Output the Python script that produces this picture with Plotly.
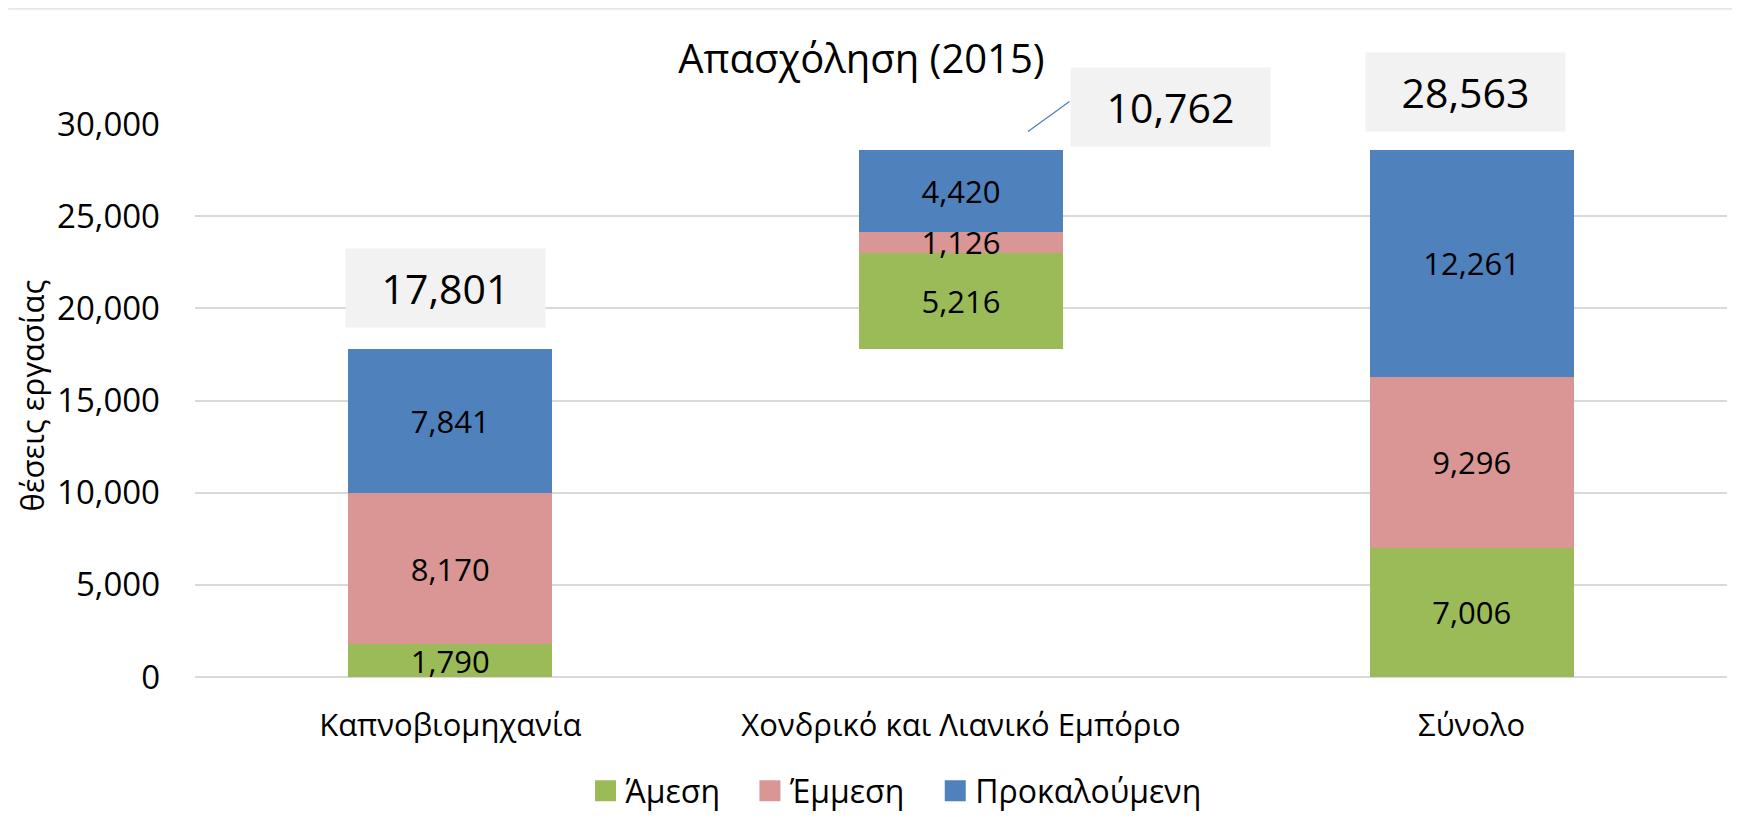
import plotly.graph_objects as go

categories = ["Καπνοβιομηχανία", "Χονδρικό και Λιανικό Εμπόριο", "Σύνολο"]
series_names = ["Άμεση", "Έμμεση", "Προκαλούμενη"]
direct = [1790, 5216, 7006]
indirect = [8170, 1126, 9296]
induced = [7841, 4420, 12261]
totals = [17801, 10762, 28563]
base = [0, 17801, 0]  # waterfall offset (Χονδρικό starts on top of Καπνοβιομηχανία)
y_ticks = [0, 5000, 10000, 15000, 20000, 25000, 30000]
title_text = "Απασχόληση (2015)"
y_title = "θέσεις εργασίας"

colors = ["#9BBB59", "#D99694", "#4F81BD"]
FONT = "Open Sans, Liberation Sans, DejaVu Sans, sans-serif"
W, H = 1732, 828  # page body has an 8px margin

fig = go.Figure()
fig.add_trace(go.Bar(x=categories, y=base,
                     marker=dict(color="rgba(0,0,0,0)", line=dict(width=0)),
                     showlegend=False, hoverinfo="skip"))
for name, vals, col in zip(series_names, [direct, indirect, induced], colors):
    fig.add_trace(go.Bar(
        x=categories, y=vals, name=name, showlegend=False,
        marker=dict(color=col, line=dict(width=0)),
        text=vals, texttemplate="%{y:,}", textposition="inside",
        insidetextanchor="middle", textangle=0, constraintext="none",
        textfont=dict(color="black", size=31, family=FONT), hoverinfo="skip"))

# legend entries (square swatches)
pad = "\u00a0\u00a0\u00a0"
for i, (name, col) in enumerate(zip(series_names, colors)):
    label = name + (pad if i < len(series_names) - 1 else "")
    fig.add_trace(go.Scatter(
        x=[None], y=[None], mode="markers", name=label,
        marker=dict(symbol="square", size=16, color=col, line=dict(color=col, width=5)),
        hoverinfo="skip"))

annotations = []
# total labels
shifts = [(-5, 20.5), (209, 3), (-6, 18)]
for cat, b, t, (xs, ys) in zip(categories, base, totals, shifts):
    annotations.append(dict(
        x=cat, y=b + t, xref="x", yref="y", text=f"{t:,}", showarrow=False,
        xanchor="center", yanchor="bottom", xshift=xs, yshift=ys,
        width=199, height=78, borderpad=0, bgcolor="#F2F2F2",
        font=dict(size=41, color="black", family=FONT)))
# leader line for the middle total
annotations.append(dict(
    x=categories[1], y=base[1] + totals[1], xref="x", yref="y", text="",
    showarrow=True, arrowhead=0, arrowwidth=1.3, arrowcolor="#4F81BD",
    xshift=67, yshift=19, ax=43, ay=-31))
# y-axis title
annotations.append(dict(
    x=-0.107, y=0.509, xref="paper", yref="paper", text=y_title, showarrow=False,
    textangle=-90, xanchor="center", yanchor="middle",
    font=dict(size=31, color="black", family=FONT)))

fig.update_layout(
    barmode="stack", bargap=0.6,
    width=W, height=H,
    margin=dict(l=187, r=13, t=116, b=159),
    paper_bgcolor="white", plot_bgcolor="white",
    font=dict(family=FONT, color="black", size=31),
    title=dict(text=title_text, x=0.435, xref="paper", xanchor="center",
               y=1 - 51 / H, yref="container", yanchor="middle",
               font=dict(size=40, color="black", family=FONT)),
    xaxis=dict(showgrid=False, showline=False, ticks="", ticklabelstandoff=27,
               tickfont=dict(size=31, color="black")),
    yaxis=dict(range=[0, 30000], tickvals=y_ticks, tickformat=",",
               showgrid=True, gridcolor="#D9D9D9", gridwidth=2,
               zeroline=True, zerolinecolor="#D9D9D9", zerolinewidth=2,
               showline=False, ticks="", ticklabelstandoff=34,
               tickfont=dict(size=33, color="black")),
    legend=dict(orientation="h", x=0.2549, xanchor="left", y=-0.206, yanchor="middle",
                font=dict(size=32, color="black"), traceorder="normal"),
    annotations=annotations,
    shapes=[dict(type="line", xref="paper", yref="paper", x0=-0.122, x1=1.0085,
                 y0=1.2085, y1=1.2085, line=dict(color="#E6E6E6", width=2))],
    hovermode=False,
)

fig.write_html("out.html")
